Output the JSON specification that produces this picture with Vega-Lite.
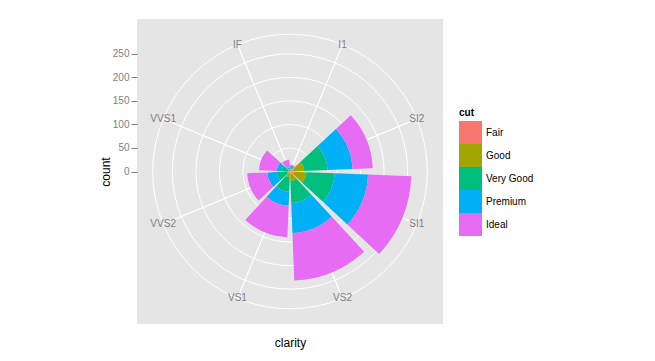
{
  "$schema": "https://vega.github.io/schema/vega-lite/v6.json",
  "width": 306,
  "height": 305,
  "autosize": {"type": "none"},
  "padding": {"left": 137, "top": 19, "right": 212, "bottom": 37},
  "background": "white",
  "config": {
    "font": "Liberation Sans",
    "view": {"fill": "#E5E5E5", "stroke": null}
  },
  "datasets": {
    "counts": [
      {"clarity": "I1", "cut": "Fair", "n": 4},
      {"clarity": "I1", "cut": "Good", "n": 2},
      {"clarity": "I1", "cut": "Very Good", "n": 2},
      {"clarity": "I1", "cut": "Premium", "n": 4},
      {"clarity": "I1", "cut": "Ideal", "n": 3},
      {"clarity": "SI2", "cut": "Fair", "n": 9},
      {"clarity": "SI2", "cut": "Good", "n": 21},
      {"clarity": "SI2", "cut": "Very Good", "n": 50},
      {"clarity": "SI2", "cut": "Premium", "n": 53},
      {"clarity": "SI2", "cut": "Ideal", "n": 43},
      {"clarity": "SI1", "cut": "Fair", "n": 8},
      {"clarity": "SI1", "cut": "Good", "n": 27},
      {"clarity": "SI1", "cut": "Very Good", "n": 60},
      {"clarity": "SI1", "cut": "Premium", "n": 71},
      {"clarity": "SI1", "cut": "Ideal", "n": 92},
      {"clarity": "VS2", "cut": "Fair", "n": 5},
      {"clarity": "VS2", "cut": "Good", "n": 15},
      {"clarity": "VS2", "cut": "Very Good", "n": 47},
      {"clarity": "VS2", "cut": "Premium", "n": 64},
      {"clarity": "VS2", "cut": "Ideal", "n": 101},
      {"clarity": "VS1", "cut": "Fair", "n": 3},
      {"clarity": "VS1", "cut": "Good", "n": 9},
      {"clarity": "VS1", "cut": "Very Good", "n": 31},
      {"clarity": "VS1", "cut": "Premium", "n": 30},
      {"clarity": "VS1", "cut": "Ideal", "n": 67},
      {"clarity": "VVS2", "cut": "Fair", "n": 1},
      {"clarity": "VVS2", "cut": "Good", "n": 5},
      {"clarity": "VVS2", "cut": "Very Good", "n": 22},
      {"clarity": "VVS2", "cut": "Premium", "n": 20},
      {"clarity": "VVS2", "cut": "Ideal", "n": 43},
      {"clarity": "VVS1", "cut": "Fair", "n": 0},
      {"clarity": "VVS1", "cut": "Good", "n": 3},
      {"clarity": "VVS1", "cut": "Very Good", "n": 15},
      {"clarity": "VVS1", "cut": "Premium", "n": 10},
      {"clarity": "VVS1", "cut": "Ideal", "n": 38},
      {"clarity": "IF", "cut": "Fair", "n": 0},
      {"clarity": "IF", "cut": "Good", "n": 1},
      {"clarity": "IF", "cut": "Very Good", "n": 4},
      {"clarity": "IF", "cut": "Premium", "n": 4},
      {"clarity": "IF", "cut": "Ideal", "n": 16}
    ],
    "breaks": [{"v": 0}, {"v": 50}, {"v": 100}, {"v": 150}, {"v": 200}, {"v": 250}],
    "levels": [
      {"clarity": "I1"}, {"clarity": "SI2"}, {"clarity": "SI1"}, {"clarity": "VS2"},
      {"clarity": "VS1"}, {"clarity": "VVS2"}, {"clarity": "VVS1"}, {"clarity": "IF"}
    ]
  },
  "layer": [
    {
      "data": {"name": "breaks"},
      "mark": {"type": "arc", "theta": 0, "theta2": 6.4, "fillOpacity": 0, "stroke": "white", "strokeWidth": 1},
      "encoding": {
        "radius": {"field": "v", "type": "quantitative", "stack": null, "scale": {"type": "linear", "domain": [0, 258.4], "range": [0, 121.6], "zero": false, "nice": false}}
      }
    },
    {
      "data": {"name": "breaks"},
      "transform": [{"filter": "datum.v == 0"}],
      "mark": {"type": "arc", "theta": 0, "theta2": 6.4, "radius": 137.3, "fillOpacity": 0, "stroke": "white", "strokeWidth": 1},
      "encoding": {}
    },
    {
      "data": {"name": "levels"},
      "mark": {"type": "arc", "radius": 137.3, "radius2": 0, "fillOpacity": 0, "stroke": "white", "strokeWidth": 1},
      "encoding": {
        "theta": {"field": "clarity", "type": "nominal", "scale": {"type": "point", "padding": 0.5, "domain": ["I1", "SI2", "SI1", "VS2", "VS1", "VVS2", "VVS1", "IF"], "range": [0, 6.2831853]}},
        "theta2": {"field": "clarity"}
      }
    },
    {
      "data": {"name": "counts"},
      "transform": [{"stack": "n", "groupby": ["clarity"], "as": ["r0", "r1"]}],
      "mark": {"type": "arc", "thetaOffset": -0.353429, "theta2Offset": 0.353429},
      "encoding": {
        "theta": {"field": "clarity", "type": "nominal", "scale": {"type": "point", "padding": 0.5, "domain": ["I1", "SI2", "SI1", "VS2", "VS1", "VVS2", "VVS1", "IF"], "range": [0, 6.2831853]}},
        "theta2": {"field": "clarity"},
        "radius": {"field": "r1", "type": "quantitative", "stack": null},
        "radius2": {"field": "r0"},
        "color": {
          "field": "cut",
          "type": "nominal",
          "scale": {"domain": ["Fair", "Good", "Very Good", "Premium", "Ideal"], "range": ["#F8766D", "#A3A500", "#00BF7D", "#00B0F6", "#E76BF3"]},
          "legend": {
            "title": "cut",
            "orient": "none",
            "legendX": 322,
            "legendY": 89,
            "padding": 0,
            "titleFontSize": 10,
            "titleFontWeight": "bold",
            "titleColor": "black",
            "titlePadding": 3,
            "labelFontSize": 10,
            "labelColor": "black",
            "labelOffset": 4,
            "symbolType": "square",
            "symbolSize": 529,
            "symbolStrokeWidth": 0,
            "symbolOpacity": 1,
            "rowPadding": 0
          }
        }
      }
    },
    {
      "data": {"name": "levels"},
      "mark": {"type": "text", "radius": 137.3, "fontSize": 10, "color": "#7F7F7F"},
      "encoding": {
        "theta": {"field": "clarity", "type": "nominal", "scale": {"type": "point", "padding": 0.5, "domain": ["I1", "SI2", "SI1", "VS2", "VS1", "VVS2", "VVS1", "IF"], "range": [0, 6.2831853]}},
        "text": {"field": "clarity"}
      }
    },
    {
      "data": {"name": "breaks"},
      "mark": {"type": "point", "opacity": 0},
      "encoding": {
        "y": {
          "field": "v",
          "type": "quantitative",
          "scale": {"domain": [0, 258.4], "range": [152.5, 30.9], "zero": false, "nice": false},
          "axis": {
            "values": [0, 50, 100, 150, 200, 250],
            "title": "count",
            "grid": false,
            "domain": false,
            "tickColor": "#7F7F7F",
            "tickSize": 6,
            "labelColor": "#7F7F7F",
            "labelFontSize": 10,
            "labelPadding": 2,
            "titleFontSize": 12,
            "titleFontWeight": "normal",
            "titleColor": "black",
            "titleX": -32,
            "titleY": 152.5,
            "titleBaseline": "middle"
          }
        },
        "x": {
          "field": "v",
          "type": "quantitative",
          "axis": {
            "title": "clarity",
            "labels": false,
            "ticks": false,
            "domain": false,
            "grid": false,
            "titleFontSize": 12,
            "titleFontWeight": "normal",
            "titleColor": "black",
            "titleY": 18,
            "titleBaseline": "middle"
          }
        }
      }
    }
  ]
}
